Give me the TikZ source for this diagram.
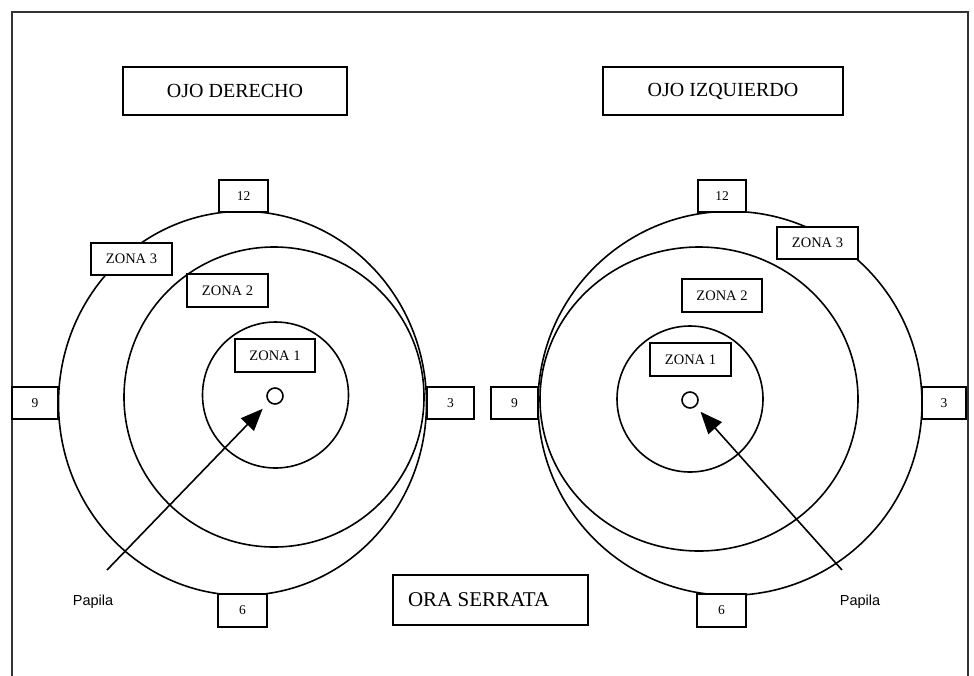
\documentclass[tikz,border=0pt]{standalone}
\usepackage{fontspec}
\setmainfont{Liberation Serif}
\newfontfamily\labelsans{Liberation Sans}
\usetikzlibrary{arrows.meta}

\begin{document}
\begin{tikzpicture}[x=1pt,y=-1pt,
  line width=1.6pt,
  lbl/.style={draw, fill=white, line width=1.6pt, inner sep=0pt,
              font=\fontsize{13.5}{13.5}\selectfont},
  clock/.style={lbl, minimum width=48pt, minimum height=32pt},
  zona/.style={lbl, minimum width=81pt, minimum height=33pt,
               font=\fontsize{14.5}{14.5}\selectfont},
  title/.style={lbl, minimum height=48pt, font=\fontsize{20}{20}\selectfont},
  ring/.style={draw, line width=1.6pt},
  pupil/.style={circle, draw, line width=1.6pt, minimum size=16pt, inner sep=0pt},
  papila/.style={font=\labelsans\fontsize{14.5}{14.5}\selectfont, inner sep=0pt},
  pointer/.style={-{Triangle[length=22pt,width=18pt]}, line width=1.6pt}
]
\useasboundingbox (0,0) rectangle (974,675);
\fill[white] (0,0) rectangle (974,675);

% outer frame (runs off the bottom edge)
\draw[line width=1.9pt, black!80] (12,690) -- (12,12) -- (968,12) -- (968,690);

% ---------- right eye (ojo derecho) ----------
\draw[ring] (242.5,403.3) ellipse [x radius=184, y radius=192];
\draw[ring] (274,397) circle [radius=150];
\draw[ring] (275.5,395) circle [radius=73];
\node[pupil] (pupL) at (275,396) {};

\node[clock, minimum width=49pt] (c12L) at (243.5,196) {12};
\node[clock, minimum width=46pt] (c9L) at (35,403) {9};
\node[clock, minimum width=47pt] (c3L) at (450.5,403) {3};
\node[clock, minimum width=49pt, minimum height=33pt] (c6L) at (242.5,610.5) {6};

\node[zona, minimum height=32pt] (z3L) at (131.5,259) {ZONA 3};
\node[zona] (z2L) at (227.5,290.5) {ZONA 2};
\node[zona, minimum width=80pt] (z1L) at (275,355.5) {ZONA 1};

\node[title, minimum width=224pt] (ojoD) at (235,91) {OJO DERECHO};

\node[papila] (papL) at (93,602) {Papila};
\coordinate (tailL) at (107,570);
\draw[pointer, shorten >=9pt] (tailL) -- (pupL);

% ---------- left eye (ojo izquierdo) ----------
\draw[ring] (730,403.3) circle [radius=192];
\draw[ring] (699,399) ellipse [x radius=159, y radius=152];
\draw[ring] (690,399) circle [radius=73];
\node[pupil] (pupR) at (690,400) {};

\node[clock] (c12R) at (722,196) {12};
\node[clock, minimum width=47pt] (c9R) at (514.5,403) {9};
\node[clock, minimum width=44pt] (c3R) at (944,403) {3};
\node[clock, minimum width=49pt, minimum height=33pt] (c6R) at (721.5,610.5) {6};

\node[zona, minimum height=32pt] (z3R) at (817.5,243) {ZONA 3};
\node[zona, minimum width=80pt] (z2R) at (722,295.5) {ZONA 2};
\node[zona] (z1R) at (690.5,359.5) {ZONA 1};

\node[title, minimum width=240pt] (ojoI) at (723,91) {OJO IZQUIERDO};

\node[papila] (papR) at (860,602) {Papila};
\coordinate (tailR) at (842,570);
\draw[pointer, shorten >=7pt] (tailR) -- (pupR);

% ---------- ora serrata label (text set flush left in its box) ----------
\node[lbl, minimum width=195pt, minimum height=50pt] (ora) at (490.5,600) {};
\node[anchor=west, inner sep=0pt, font=\fontsize{21}{21}\selectfont]
     (oraText) at ([xshift=15pt]ora.west) {ORA SERRATA};
\end{tikzpicture}
\end{document}
